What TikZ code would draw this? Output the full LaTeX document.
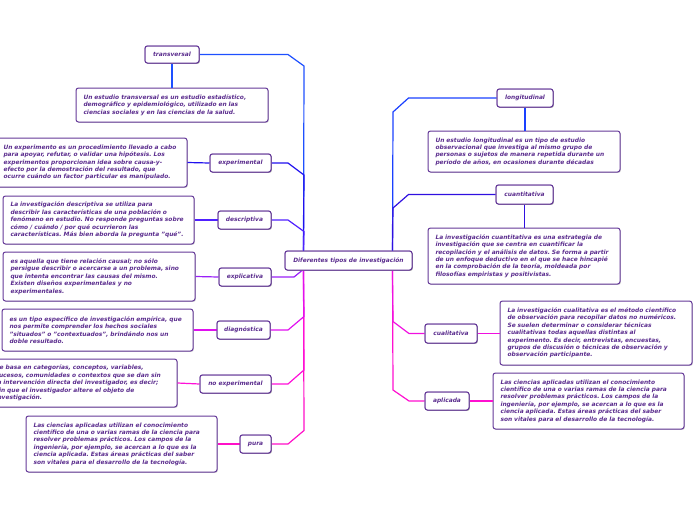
\documentclass[tikz,border=0pt]{standalone}
\usepackage{fontspec}
\setmainfont{DejaVu Sans}
\usetikzlibrary{shadows}
\definecolor{boxc}{HTML}{643898}
\definecolor{txtc}{HTML}{5B2D8E}
\definecolor{cTr}{HTML}{1E50FF}
\definecolor{cEx}{HTML}{2010EE}
\definecolor{cDe}{HTML}{5020FF}
\definecolor{cEp}{HTML}{9A20F8}
\definecolor{cDi}{HTML}{E010F0}
\definecolor{cNo}{HTML}{FF10D8}
\definecolor{cPu}{HTML}{FF10C8}
\definecolor{cLo}{HTML}{1A40FF}
\definecolor{cCn}{HTML}{3010E0}
\definecolor{cCl}{HTML}{F010E0}
\definecolor{cAp}{HTML}{FF10D0}
\newcommand\bxfont{\fontsize{5.9}{7.4}\selectfont\bfseries\itshape\frenchspacing}
\tikzset{
  base/.style={draw=boxc, fill=white, rounded corners=2.5pt, line width=1pt,
    text=txtc, font=\bxfont,
    drop shadow={shadow xshift=0.9pt, shadow yshift=-0.9pt, opacity=0.35}},
  lbl/.style={base, inner sep=0pt, align=center},
  desc/.style={base, inner xsep=7.5pt, inner ysep=0pt, align=left},
  conn/.style={line width=1.2pt},
}
\begin{document}
\begin{tikzpicture}[x=1pt,y=-1pt]
\useasboundingbox (0,0) rectangle (696,520);
% central node and labels
\node[lbl, minimum width=127pt, minimum height=19pt] (c) at (348.5,260.5) {Diferentes tipos de investigación};
\node[lbl, minimum width=54pt, minimum height=17pt] (t) at (172,54.5) {transversal};
\node[lbl, minimum width=61pt, minimum height=18pt] (e) at (240.5,163) {experimental};
\node[lbl, minimum width=53pt, minimum height=18pt] (d) at (244.5,220) {descriptiva};
\node[lbl, minimum width=52pt, minimum height=18pt] (x) at (245,277) {explicativa};
\node[lbl, minimum width=53pt, minimum height=18pt] (g) at (243.5,330) {diagnóstica};
\node[lbl, minimum width=71pt, minimum height=18pt] (n) at (235.5,384) {no experimental};
\node[lbl, minimum width=31pt, minimum height=18pt] (p) at (255.5,444) {pura};
\node[lbl, minimum width=56pt, minimum height=18pt] (l) at (525,98) {longitudinal};
\node[lbl, minimum width=57pt, minimum height=19pt] (q) at (524.5,194.5) {cuantitativa};
\node[lbl, minimum width=52pt, minimum height=19pt] (k) at (451,333.5) {cualitativa};
\node[lbl, minimum width=44pt, minimum height=18pt] (a) at (447,401) {aplicada};
% coordinates of bends
\coordinate (tl1) at (304,66);   \coordinate (tl2) at (288,54.5);
\coordinate (el1) at (304,175);  \coordinate (el2) at (288,163);
\coordinate (dl1) at (304,231.5);\coordinate (dl2) at (288,220);
\coordinate (xl1) at (302,270.5);\coordinate (xl2) at (294,277);
\coordinate (gl1) at (304,316.5);\coordinate (gl2) at (288,330);
\coordinate (nl1) at (304,370);  \coordinate (nl2) at (288,384);
\coordinate (pl1) at (304,430.5);\coordinate (pl2) at (288,444);
\coordinate (ll1) at (393,112);  \coordinate (ll2) at (408.5,98);
\coordinate (ql1) at (393,208);  \coordinate (ql2) at (408.5,194.5);
\coordinate (kl1) at (393,321.5);\coordinate (kl2) at (409,333.5);
\coordinate (al1) at (393,390);  \coordinate (al2) at (409,401);
% left upper branches
\draw[conn, cTr] ([xshift=19pt]c.north west) -- (tl1) -- (tl2) -- (t.east);
\draw[conn, cEx] ([xshift=19pt]c.north west) -- (el1) -- (el2) -- (e.east);
\draw[conn, cDe] ([xshift=19pt]c.north west) -- (dl1) -- (dl2) -- (d.east);
% left lower branches
\draw[conn, cPu] ([xshift=19pt]c.south west) -- (pl1) -- (pl2) -- (p.east);
\draw[conn, cNo] ([xshift=19pt]c.south west) -- (nl1) -- (nl2) -- (n.east);
\draw[conn, cDi] ([xshift=19pt]c.south west) -- (gl1) -- (gl2) -- (g.east);
\draw[conn, cEp] (xl1) -- (xl2) -- (x.east);
% right branches
\draw[conn, cLo] ([xshift=108pt]c.north west) -- (ll1) -- (ll2) -- (l.west);
\draw[conn, cCn] ([xshift=108pt]c.north west) -- (ql1) -- (ql2) -- (q.west);
\draw[conn, cAp] ([xshift=108pt]c.south west) -- (al1) -- (al2) -- (a.west);
\draw[conn, cCl] ([xshift=108pt]c.south west) -- (kl1) -- (kl2) -- (k.west);
% redraw central node above connectors
\node[lbl, minimum width=127pt, minimum height=19pt] at (c) {Diferentes tipos de investigación};
% descriptions
\node[desc, minimum width=192pt, minimum height=34pt, text width=177pt] (tD) at (172,105) {Un estudio transversal es un estudio estadístico,\\ demográfico y epidemiológico, utilizado en las\\ ciencias sociales y en las ciencias de la salud.};
\node[desc, minimum width=191pt, minimum height=49pt, text width=176pt] (eD) at (91.5,162.5) {Un experimento es un procedimiento llevado a cabo\\ para apoyar, refutar, o validar una hipótesis. Los\\ experimentos proporcionan idea sobre causa-y-\\ efecto por la demostración del resultado, que\\ ocurre cuándo un factor particular es manipulado.};
\node[desc, minimum width=191pt, minimum height=48pt, text width=176pt] (dD) at (98.5,220) {La investigación descriptiva se utiliza para\\ describir las características de una población o\\ fenómeno en estudio. No responde preguntas sobre\\ cómo / cuándo / por qué ocurrieron las\\ características. Más bien aborda la pregunta "qué".};
\node[desc, minimum width=192pt, minimum height=49pt, text width=177pt] (xD) at (99,276.5) {es aquella que tiene relación causal; no sólo\\ persigue describir o acercarse a un problema, sino\\ que intenta encontrar las causas del mismo.\\ Existen diseños experimentales y no\\ experimentales.};
\node[desc, minimum width=191pt, minimum height=42pt, text width=176pt] (gD) at (97.5,330) {es un tipo específico de investigación empírica, que\\ nos permite comprender los hechos sociales\\ "situados" o "contextuados", brindándo nos un\\ doble resultado.};
\node[desc, minimum width=189pt, minimum height=48pt, text width=174pt] (nD) at (82.5,383) {Se basa en categorías, conceptos, variables,\\ sucesos, comunidades o contextos que se dan sin\\ la intervención directa del investigador, es decir;\\ sin que el investigador altere el objeto de\\ investigación.};
\node[desc, minimum width=191pt, minimum height=56pt, text width=176pt] (pD) at (121.5,444) {Las ciencias aplicadas utilizan el conocimiento\\ científico de una o varias ramas de la ciencia para\\ resolver problemas prácticos. Los campos de la\\ ingeniería, por ejemplo, se acercan a lo que es la\\ ciencia aplicada. Estas áreas prácticas del saber\\ son vitales para el desarrollo de la tecnología.};
\node[desc, minimum width=192pt, minimum height=41pt, text width=177pt] (lD) at (524,151.5) {Un estudio longitudinal es un tipo de estudio\\ observacional que investiga al mismo grupo de\\ personas o sujetos de manera repetida durante un\\ período de años, en ocasiones durante décadas};
\node[desc, minimum width=192pt, minimum height=56pt, text width=177pt] (qD) at (524,256) {La investigación cuantitativa es una estrategia de\\ investigación que se centra en cuantificar la\\ recopilación y el análisis de datos. Se forma a partir\\ de un enfoque deductivo en el que se hace hincapié\\ en la comprobación de la teoría, moldeada por\\ filosofías empiristas y positivistas.};
\node[desc, minimum width=192pt, minimum height=64pt, text width=177pt] (kD) at (596,333) {La investigación cualitativa es el método científico\\ de observación para recopilar datos no numéricos.\\ Se suelen determinar o considerar técnicas\\ cualitativas todas aquellas distintas al\\ experimento. Es decir, entrevistas, encuestas,\\ grupos de discusión o técnicas de observación y\\ observación participante.};
\node[desc, minimum width=191pt, minimum height=56pt, text width=176pt] (aD) at (588.5,401) {Las ciencias aplicadas utilizan el conocimiento\\ científico de una o varias ramas de la ciencia para\\ resolver problemas prácticos. Los campos de la\\ ingeniería, por ejemplo, se acercan a lo que es la\\ ciencia aplicada. Estas áreas prácticas del saber\\ son vitales para el desarrollo de la tecnología.};
% label-to-description connectors
\draw[conn, cTr] (t.south) -- (tD.north);
\draw[conn, cEx] (e.west) -- (eD.east);
\draw[conn, cDe] (d.west) -- (dD.east);
\draw[conn, cEp] (x.west) -- (xD.east);
\draw[conn, cDi] (g.west) -- (gD.east);
\draw[conn, cNo] (n.west) -- (nD.east);
\draw[conn, cPu] (p.west) -- (pD.east);
\draw[conn, cLo] (l.south) -- (l.south |- lD.north);
\draw[conn, cCn] (q.south) -- (q.south |- qD.north);
\draw[conn, cCl] (k.east) -- (kD.west |- k.east);
\draw[conn, cAp] (a.east) -- (aD.west |- a.east);
% labels redrawn on top of connector ends
\node[lbl, minimum width=54pt, minimum height=17pt] at (t) {transversal};
\node[lbl, minimum width=61pt, minimum height=18pt] at (e) {experimental};
\node[lbl, minimum width=53pt, minimum height=18pt] at (d) {descriptiva};
\node[lbl, minimum width=52pt, minimum height=18pt] at (x) {explicativa};
\node[lbl, minimum width=53pt, minimum height=18pt] at (g) {diagnóstica};
\node[lbl, minimum width=71pt, minimum height=18pt] at (n) {no experimental};
\node[lbl, minimum width=31pt, minimum height=18pt] at (p) {pura};
\node[lbl, minimum width=56pt, minimum height=18pt] at (l) {longitudinal};
\node[lbl, minimum width=57pt, minimum height=19pt] at (q) {cuantitativa};
\node[lbl, minimum width=52pt, minimum height=19pt] at (k) {cualitativa};
\node[lbl, minimum width=44pt, minimum height=18pt] at (a) {aplicada};
\end{tikzpicture}
\end{document}
